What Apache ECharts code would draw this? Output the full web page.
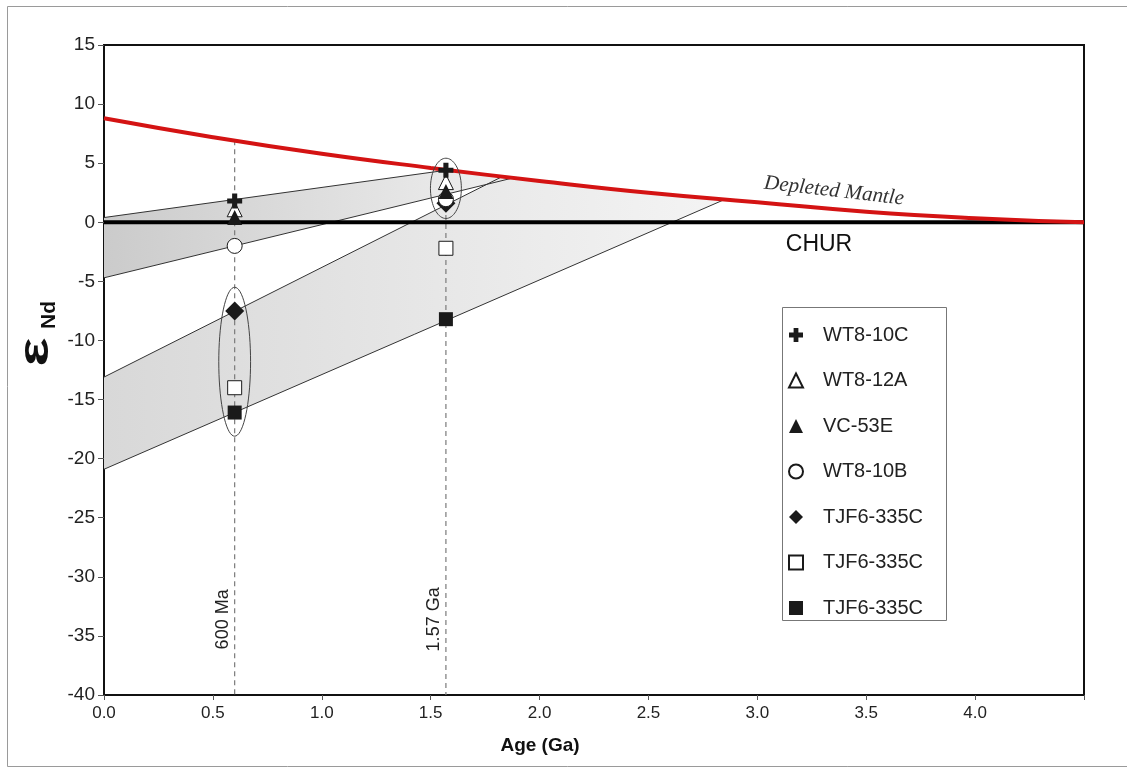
<!DOCTYPE html>
<html>
<head>
<meta charset="utf-8">
<script src="https://cdn.jsdelivr.net/npm/echarts@6/dist/echarts.min.js"></script>
<style>
  html, body { margin: 0; padding: 0; background: #fff; }
  #chart { width: 1127px; height: 768px; }
</style>
</head>
<body>
<div id="chart"></div>
<script>
// Age axis (Ga) and epsilon-Nd axis ticks
const xTickValues = [0, 0.5, 1.0, 1.5, 2.0, 2.5, 3.0, 3.5, 4.0, 4.5];
const yTickValues = [-40, -35, -30, -25, -20, -15, -10, -5, 0, 5, 10, 15];

// Depleted mantle evolution curve [age, eNd]
const depletedMantle = [[0, 8.8], [0.5, 7.2], [1.0, 5.8], [1.5, 4.6], [2.0, 3.5], [2.5, 2.5], [3.0, 1.7], [3.5, 0.9], [4.0, 0.35], [4.5, 0.0]];
// Chondritic uniform reservoir
const chur = [[0, 0], [4.5, 0]];

// Nd evolution lines back to the depleted mantle
const line1 = [[0, 0.4], [1.57, 4.4]];
const line2 = [[0, -4.7], [1.88, 3.76]];
const line3 = [[0, -13.1], [1.83, 3.88]];
const line4 = [[0, -20.9], [2.85, 1.93]];

// Shaded evolution fields (outline vertices)
const upperBand = [[0, 0.4], [1.57, 4.4], [1.88, 3.76], [0, -4.7]];
const lowerBand = [[0, -13.1], [1.83, 3.88], [2.0, 3.5], [2.5, 2.5], [2.85, 1.93], [0, -20.9]];

// Reference ages
const ageMarks = [0.6, 1.57];
const ageLabels = ['600 Ma', '1.57 Ga'];
const dmAtAge = [6.95, 4.43];

// Sample groupings: [age, centre eNd, half width (Ga), half height (eNd)]
const groupEllipses = [[0.6, -11.8, 0.073, 6.3], [1.57, 2.87, 0.071, 2.55]];

// Samples: eNd at 600 Ma and at 1.57 Ga
const samples = ['WT8-10C', 'WT8-12A', 'VC-53E', 'WT8-10B', 'TJF6-335C', 'TJF6-335C', 'TJF6-335C'];
const wt810c = [[0.6, 1.8], [1.57, 4.4]];
const wt812a = [[0.6, 1.1], [1.57, 3.4]];
const vc53e = [[0.6, 0.4], [1.57, 2.6]];
const wt810b = [[0.6, -2.0], [1.57, 1.95]];
const tjfDiamond = [[0.6, -7.5], [1.57, 1.6]];
const tjfOpenSquare = [[0.6, -14.0], [1.57, -2.2]];
const tjfSquare = [[0.6, -16.1], [1.57, -8.2]];

const chart = echarts.init(document.getElementById('chart'));

const plusPath = 'path://M3.3,0 H6.7 V3.3 H10 V6.7 H6.7 V10 H3.3 V6.7 H0 V3.3 H3.3 Z';
const INK = '#1a1a1a';
const SANS = '"Liberation Sans", Arial, sans-serif';

function bandSeries(pts, c0, c1) {
  return {
    type: 'custom', silent: true, z: 1, data: [0],
    renderItem: (params, api) => ({
      type: 'polygon',
      shape: { points: pts.map(p => api.coord(p)) },
      style: {
        fill: new echarts.graphic.LinearGradient(0, 0, 1, 0, [
          { offset: 0, color: c0 }, { offset: 1, color: c1 }
        ]),
        stroke: null
      }
    })
  };
}

function thinLine(data) {
  return {
    type: 'line', data: data, symbol: 'none', silent: true, z: 2,
    lineStyle: { color: '#333', width: 1 }
  };
}

function sampleSeries(idx, data, symbol, size, fill, z) {
  return {
    name: samples[idx] + '#' + idx,
    type: 'scatter', data: data, symbol: symbol, symbolSize: size, z: z || 6,
    itemStyle: { color: fill, borderColor: INK, borderWidth: fill === '#fff' ? 1 : 0, opacity: 1 }
  };
}

const series = [
  bandSeries(upperBand, '#cbcbcb', '#efefef'),
  bandSeries(lowerBand, '#d8d8d8', '#f4f4f4'),
  thinLine(line1), thinLine(line2), thinLine(line3), thinLine(line4),
  // vertical reference ages
  ...ageMarks.map((a, i) => ({
    type: 'line', data: [[a, dmAtAge[i]], [a, -40]], symbol: 'none', silent: true, z: 2,
    lineStyle: { color: '#7a7a7a', width: 1.2, type: [5, 4] }
  })),
  {
    type: 'line', data: chur, symbol: 'none', silent: true, z: 3,
    lineStyle: { color: '#000', width: 4 }
  },
  {
    type: 'line', data: depletedMantle, symbol: 'none', smooth: true, silent: true, z: 4,
    lineStyle: { color: '#d41313', width: 4 }
  },
  // group outlines
  {
    type: 'custom', silent: true, z: 5, data: groupEllipses,
    renderItem: (params, api) => {
      const c = api.coord([api.value(0), api.value(1)]);
      const s = api.size([api.value(2), api.value(3)]);
      const pts = [];
      for (let k = 0; k <= 72; k++) {
        const t = k / 72 * Math.PI * 2;
        pts.push([c[0] + s[0] * Math.cos(t), c[1] + s[1] * Math.sin(t)]);
      }
      return { type: 'polygon', shape: { points: pts }, style: { fill: null, stroke: '#444', lineWidth: 1 } };
    }
  },
  // age labels beside the dashed lines
  {
    type: 'custom', silent: true, z: 5, data: ageMarks.map((a, i) => [a, -33.6, i]),
    renderItem: (params, api) => {
      const c = api.coord([api.value(0), api.value(1)]);
      return {
        type: 'text', x: c[0] - 12, y: c[1], rotation: Math.PI / 2,
        style: {
          text: ageLabels[api.value(2)], fill: '#222', align: 'center', verticalAlign: 'middle',
          font: '18px ' + SANS
        }
      };
    }
  },
  sampleSeries(0, wt810c, plusPath, 15, INK, 9),
  sampleSeries(1, wt812a, 'triangle', 15, '#fff', 7),
  sampleSeries(2, vc53e, 'triangle', 15, INK, 8),
  sampleSeries(3, wt810b, 'circle', 15, '#fff', 7),
  sampleSeries(4, tjfDiamond, 'diamond', 19, INK, 6),
  sampleSeries(5, tjfOpenSquare, 'rect', 14, '#fff', 7),
  sampleSeries(6, tjfSquare, 'rect', 14, INK, 7)
];

chart.setOption({
  animation: false,
  backgroundColor: '#fff',
  grid: { left: 104, top: 45, right: 43, bottom: 73, show: true, borderColor: '#111', borderWidth: 2, backgroundColor: 'transparent' },
  xAxis: {
    type: 'value', min: xTickValues[0], max: xTickValues[xTickValues.length - 1], interval: 0.5,
    axisLine: { onZero: false, lineStyle: { color: '#111', width: 2 } },
    axisTick: { show: true, length: 5, lineStyle: { color: '#555' } },
    splitLine: { show: false },
    axisLabel: {
      margin: 10, color: '#222', fontSize: 17, fontFamily: '"Liberation Sans Narrow", "Liberation Sans", Arial',
      formatter: v => (v === 4.5 ? '' : v.toFixed(1))
    }
  },
  yAxis: {
    type: 'value', min: yTickValues[0], max: yTickValues[yTickValues.length - 1], interval: 5,
    axisLine: { onZero: false, lineStyle: { color: '#111', width: 2 } },
    axisTick: { show: true, length: 6, lineStyle: { color: '#555' } },
    splitLine: { show: false },
    axisLabel: { margin: 9, color: '#222', fontSize: 19, fontFamily: SANS }
  },
  legend: {
    data: samples.map((s, i) => s + '#' + i),
    orient: 'vertical', left: 783, top: 320,
    itemWidth: 14, itemHeight: 14, itemGap: 25.5,
    selectedMode: false,
    formatter: n => n.replace(/#\d+$/, ''),
    textStyle: { fontSize: 20, color: '#222', fontFamily: SANS, padding: [0, 0, 0, 15] }
  },
  graphic: [
    { type: 'rect', silent: true, shape: { x: 7.5, y: 6.5, width: 1130, height: 760 }, style: { fill: null, stroke: '#9a9a9a', lineWidth: 1 } },
    { type: 'rect', silent: true, z: 10, shape: { x: 782.5, y: 307.5, width: 164, height: 313 }, style: { fill: null, stroke: '#777', lineWidth: 1 } },
    {
      type: 'text', silent: true, x: 36, y: 352, rotation: Math.PI / 2, scaleX: 1.45,
      style: { text: 'ε', align: 'center', verticalAlign: 'middle', font: 'bold 42px ' + SANS, fill: '#111' }
    },
    {
      type: 'text', silent: true, x: 49, y: 315, rotation: Math.PI / 2,
      style: { text: 'Nd', align: 'center', verticalAlign: 'middle', font: 'bold 21px ' + SANS, fill: '#111' }
    },
    {
      type: 'text', silent: true, x: 540, y: 746,
      style: { text: 'Age (Ga)', align: 'center', verticalAlign: 'middle', font: 'bold 19px "Liberation Sans Narrow", "Liberation Sans", Arial', fill: '#111' }
    },
    {
      type: 'text', silent: true, x: 834, y: 191, rotation: -0.115,
      style: { text: 'Depleted Mantle', align: 'center', verticalAlign: 'middle', font: 'italic 21px "Liberation Serif", "Times New Roman", serif', fill: '#333' }
    },
    {
      type: 'text', silent: true, x: 819, y: 245,
      style: { text: 'CHUR', align: 'center', verticalAlign: 'middle', font: '23px ' + SANS, fill: '#111' }
    }
  ],
  series: series
});
</script>
</body>
</html>
